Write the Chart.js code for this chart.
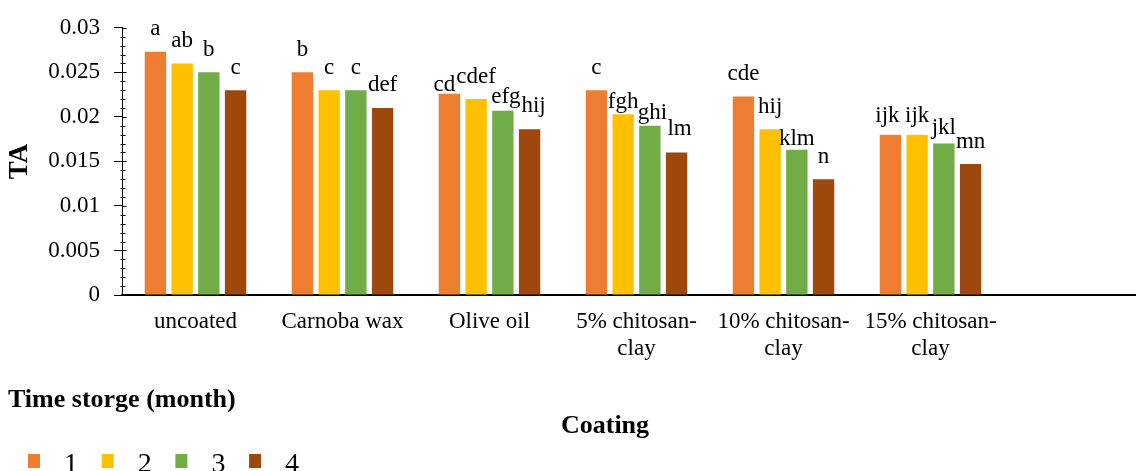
<!DOCTYPE html>
<html>
<head>
<meta charset="utf-8">
<script src="https://cdn.jsdelivr.net/npm/chart.js@4"></script>
<style>
  html, body { margin: 0; padding: 0; background: #fff; overflow: hidden; }
</style>
</head>
<body>
<canvas id="chart" width="1152" height="471"></canvas>
<script>
// coatings (last slot is empty, like the original sheet)
const categories = ['uncoated', 'Carnoba wax', 'Olive oil', ['5% chitosan-', 'clay'], ['10% chitosan-', 'clay'], ['15% chitosan-', 'clay'], ''];

// TA per storage month
const month1 = [0.0273, 0.025, 0.0226, 0.023, 0.0223, 0.018, null];
const month2 = [0.026, 0.023, 0.022, 0.0203, 0.0186, 0.018, null];
const month3 = [0.025, 0.023, 0.0207, 0.019, 0.0163, 0.017, null];
const month4 = [0.023, 0.021, 0.0186, 0.016, 0.013, 0.0147, null];

// significance letters
const letters1 = ['a', 'b', 'cd', 'c', 'cde', 'ijk'];
const letters2 = ['ab', 'c', 'cdef', 'fgh', 'hij', 'ijk'];
const letters3 = ['b', 'c', 'efg', 'ghi', 'klm', 'jkl'];
const letters4 = ['c', 'def', 'hij', 'lm', 'n', 'mn'];

const yTicks = [0, 0.005, 0.01, 0.015, 0.02, 0.025, 0.03];

const colors = ['#ED7D31', '#FFC000', '#70AD47', '#9E480E'];
const serif = "'Liberation Serif', 'Times New Roman', serif";

// hand placement of a few crowded letters: [dx, gap above bar]
const letterPlace = {
  '0,2': [-5, 3], '2,2': [3, 8], '3,2': [4, 17],
  '1,3': [0, 6], '2,3': [2.5, 7], '3,3': [3, 17],
  '2,4': [0, 5],
  '0,5': [-3, 13], '1,5': [0, 13], '2,5': [0, 10]
};

const lettersPlugin = {
  id: 'letters',
  afterDatasetsDraw(chart) {
    const ctx = chart.ctx;
    const sets = [letters1, letters2, letters3, letters4];
    ctx.save();
    ctx.font = '23px ' + serif;
    ctx.fillStyle = '#000';
    ctx.textAlign = 'center';
    ctx.textBaseline = 'alphabetic';
    sets.forEach((lab, s) => {
      const meta = chart.getDatasetMeta(s);
      lab.forEach((t, c) => {
        const bar = meta.data[c];
        const p = letterPlace[s + ',' + c] || [0, 16.5];
        ctx.fillText(t, bar.x + p[0], bar.y - p[1]);
      });
    });
    ctx.restore();
  }
};

// minor ticks on the value axis + bottom texts and legend
const extrasPlugin = {
  id: 'extras',
  afterDraw(chart) {
    const ctx = chart.ctx;
    const y = chart.scales.y;
    const x0 = chart.chartArea.left + 0.5;
    ctx.save();
    ctx.strokeStyle = '#000';
    ctx.lineWidth = 1;
    for (let i = 0; i <= 30; i++) {
      const py = Math.round(y.getPixelForValue(i / 1000)) + 0.5;
      ctx.beginPath();
      if (i % 5 === 0) { ctx.moveTo(x0, py); ctx.lineTo(x0 + 4, py); }
      else { ctx.moveTo(x0 - 2, py); ctx.lineTo(x0 + 3, py); }
      ctx.stroke();
    }

    ctx.fillStyle = '#000';
    ctx.textBaseline = 'alphabetic';
    ctx.font = 'bold 26px ' + serif;
    ctx.textAlign = 'left';
    ctx.fillText('Time storge (month)', 8, 407);
    ctx.textAlign = 'center';
    ctx.fillText('Coating', 605, 433);

    ctx.textAlign = 'left';
    ctx.font = '28px ' + serif;
    chart.data.datasets.forEach((ds, i) => {
      const lx = 28 + i * 73.7;
      ctx.fillStyle = ds.backgroundColor;
      ctx.fillRect(lx, 454, 12, 14);
      ctx.fillStyle = '#000';
      ctx.fillText(ds.label, lx + 36, 472);
    });
    ctx.restore();
  }
};

new Chart(document.getElementById('chart'), {
  type: 'bar',
  data: {
    labels: categories,
    datasets: [
      { label: '1', data: month1, backgroundColor: colors[0] },
      { label: '2', data: month2, backgroundColor: colors[1] },
      { label: '3', data: month3, backgroundColor: colors[2] },
      { label: '4', data: month4, backgroundColor: colors[3] }
    ]
  },
  options: {
    responsive: false,
    animation: false,
    devicePixelRatio: 1,
    categoryPercentage: 0.727,
    barPercentage: 0.8,
    layout: { padding: { top: 24, right: 1, left: 0, bottom: 0 } },
    plugins: {
      legend: { display: false },
      tooltip: { enabled: false }
    },
    scales: {
      x: {
        grid: { drawOnChartArea: false, drawTicks: false },
        border: { display: true, color: '#000', width: 2 },
        ticks: {
          color: '#000',
          font: { family: serif, size: 23, lineHeight: 1.15 },
          padding: 14,
          maxRotation: 0,
          autoSkip: false
        },
        afterFit(scale) { scale.height = 176; }
      },
      y: {
        min: 0,
        max: 0.03,
        afterBuildTicks(scale) { scale.ticks = yTicks.map(v => ({ value: v })); },
        grid: { drawOnChartArea: false, drawTicks: true, tickLength: 8, color: '#000' },
        border: { display: true, color: '#000', width: 1 },
        ticks: {
          color: '#000',
          font: { family: serif, size: 23 },
          padding: 14,
          callback: v => String(v)
        },
        title: {
          display: true,
          text: 'TA',
          color: '#000',
          font: { family: serif, size: 27, weight: 'bold' },
          padding: { top: 4, bottom: 0 }
        },
        afterFit(scale) { scale.width = 122; }
      }
    }
  },
  plugins: [lettersPlugin, extrasPlugin]
});
</script>
</body>
</html>
